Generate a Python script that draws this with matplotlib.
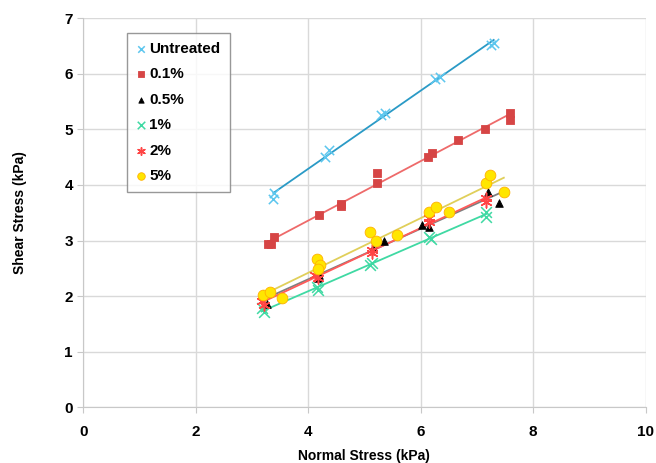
import numpy as np
import matplotlib.pyplot as plt

plt.rcParams['font.family'] = ['Liberation Sans', 'DejaVu Sans']

# data (normal stress, shear stress) in kPa
untreated_x = [3.38, 3.39, 4.30, 4.37, 5.30, 5.36, 6.25, 6.34, 7.26, 7.30]
untreated_y = [3.74, 3.85, 4.50, 4.63, 5.26, 5.30, 5.90, 5.94, 6.52, 6.56]

p01_x = [3.29, 3.33, 3.39, 4.20, 4.59, 4.59, 5.23, 5.23, 6.13, 6.21, 6.67, 7.14, 7.59, 7.59]
p01_y = [2.94, 2.94, 3.06, 3.46, 3.62, 3.66, 4.03, 4.21, 4.50, 4.57, 4.81, 5.00, 5.17, 5.30]

p05_x = [3.20, 3.27, 4.18, 4.20, 5.16, 5.35, 6.03, 6.15, 7.19, 7.40]
p05_y = [2.04, 1.86, 2.32, 2.38, 2.86, 3.00, 3.28, 3.25, 3.88, 3.68]

p1_x = [3.17, 3.22, 4.16, 4.18, 5.10, 5.13, 6.15, 6.18, 7.17, 7.17]
p1_y = [1.78, 1.72, 2.17, 2.11, 2.56, 2.60, 3.07, 3.03, 3.52, 3.43]

p2_x = [3.18, 3.22, 4.12, 4.18, 5.14, 5.14, 6.15, 6.15, 7.17, 7.17]
p2_y = [1.92, 1.85, 2.38, 2.33, 2.83, 2.77, 3.34, 3.40, 3.76, 3.70]

p5_x = [3.20, 3.32, 3.54, 4.16, 4.21, 4.18, 5.10, 5.20, 5.58, 6.15, 6.27, 6.50, 7.17, 7.24, 7.48]
p5_y = [2.02, 2.08, 1.96, 2.67, 2.56, 2.49, 3.16, 3.00, 3.10, 3.52, 3.61, 3.51, 4.04, 4.18, 3.88]

labels = ['Untreated', '0.1%', '0.5%', '1%', '2%', '5%']

fig = plt.figure(figsize=(6.56, 4.63), dpi=100)
ax = fig.add_axes([0.127, 0.120, 0.857, 0.841])

# (x, y, marker, size, face, edge, line colour)
series = [
    (untreated_x, untreated_y, 'x', 45, '#5CC6EE', '#5CC6EE', '#2A9AC6'),
    (p01_x, p01_y, 's', 30, '#D64545', '#D64545', '#EE6A6A'),
    (p05_x, p05_y, '^', 30, 'black', 'black', '#7F7F7F'),
    (p1_x, p1_y, 'x', 60, '#3FD9A3', '#3FD9A3', '#3FD9A3'),
    (p2_x, p2_y, (6, 2, 0), 60, '#FF4545', '#FF4545', '#FF5A5A'),
    (p5_x, p5_y, 'o', 60, '#FFE600', '#FFB000', '#E0CF5A'),
]

handles = []
for (xs, ys, m, s, fc, ec, lc), lab in zip(series, labels):
    xs = np.array(xs)
    ys = np.array(ys)
    k, b = np.polyfit(xs, ys, 1)
    xl = np.array([xs.min(), xs.max()])
    ax.plot(xl, k * xl + b, color=lc, lw=1.3, zorder=2)
    if m in ('x', (6, 2, 0)):
        h = ax.scatter(xs, ys, marker=m, s=s, color=fc, linewidths=1.1, zorder=3, label=lab)
    else:
        h = ax.scatter(xs, ys, marker=m, s=s, facecolor=fc, edgecolor=ec, linewidths=0.6, zorder=3, label=lab)
    handles.append(h)

ax.set_xlim(0, 10)
ax.set_ylim(0, 7)
ax.set_xticks(range(0, 11, 2))
ax.set_yticks(range(0, 8))
ax.grid(True, color='#D9D9D9', lw=1)
ax.set_axisbelow(True)
for sp in ['top', 'right']:
    ax.spines[sp].set_visible(False)
for sp in ['left', 'bottom']:
    ax.spines[sp].set_color('#C8C8C8')
ax.tick_params(colors='#C8C8C8', length=4, labelcolor='black', labelsize=11)
ax.tick_params(axis='x', pad=9)
for t in ax.get_xticklabels() + ax.get_yticklabels():
    t.set_fontweight('bold')

ax.set_xlabel('Normal Stress (kPa)', fontsize=10, fontweight='bold', labelpad=7)
ax.set_ylabel('Shear Stress (kPa)', fontsize=10, fontweight='bold', labelpad=27)

leg = ax.legend(handles=handles, loc='upper left', bbox_to_anchor=(0.078, 0.962),
                borderaxespad=0, frameon=True, fancybox=False, handlelength=0.6,
                handletextpad=0.25, labelspacing=0.75, borderpad=0.6,
                prop={'weight': 'bold', 'size': 11}, markerscale=0.7)
leg.get_frame().set_edgecolor('#7F7F7F')
leg.get_frame().set_linewidth(1)

fig.savefig('out.png', dpi=100)
